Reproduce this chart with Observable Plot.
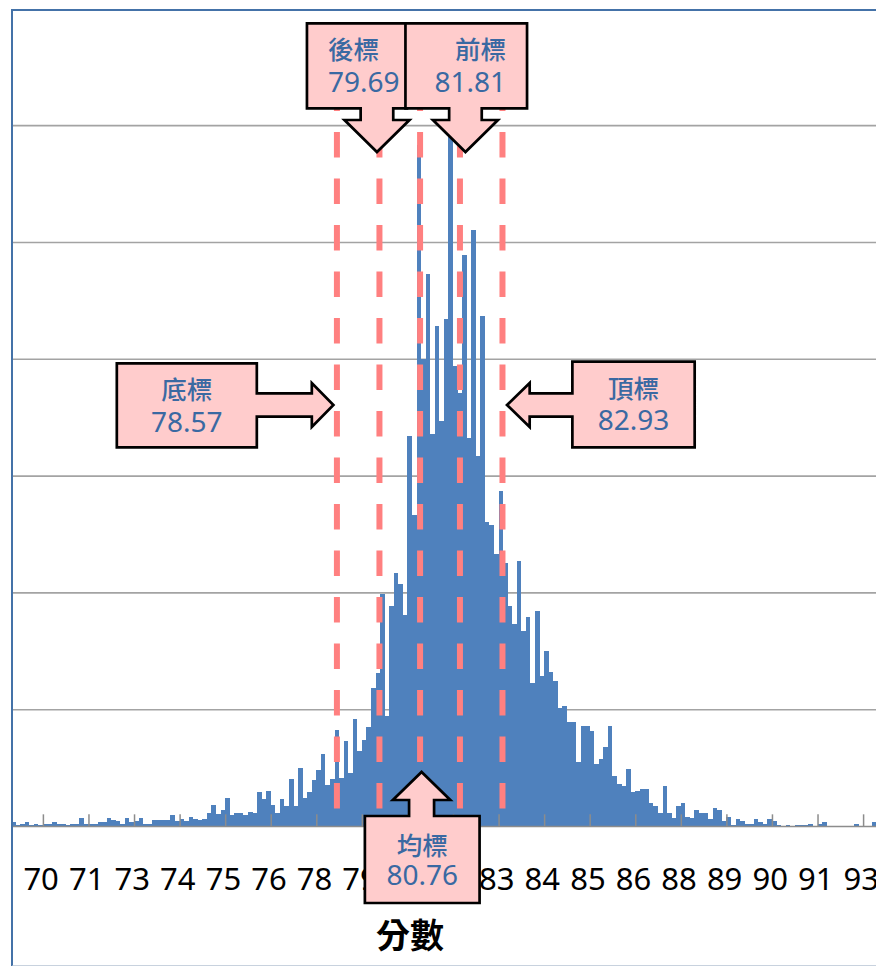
<!DOCTYPE html>
<html><head><meta charset="utf-8">
<script src="https://cdn.jsdelivr.net/npm/d3@7"></script>
<script src="https://cdn.jsdelivr.net/npm/@observablehq/plot@0.6"></script>
<style>
body{margin:0;background:#fff;}
#wrap{position:relative;width:876px;height:966px;overflow:hidden;}
#border{position:absolute;left:11px;top:9px;width:900px;height:954px;border-left:2.5px solid #4472a8;border-top:2.5px solid #4472a8;border-bottom:2px solid #c8d2de;pointer-events:none;}
</style></head><body><div id="wrap"><div id="border"></div></div>
<script>
// histogram bins (score), counts
const binStart = 70;
const binWidth = 0.12;
const counts = [
 3,1,2,3,1,2,1,2,2,3, 2,2,1,2,2,7,2,2,2,3,
 3,7,5,4,2,7,3,4,7,2, 2,5,5,5,5,9,4,6,4,8,
 6,5,6,11,18,10,14,24,9,11, 11,9,12,11,29,23,30,18,11,23,
 17,40,17,50,24,29,39,48,62,35, 40,82,41,73,45,92,64,74,85,118,
 131,199,94,188,217,207,181,334,266,583, 400,473,336,428,347,434,590,394,371,489,
 332,510,317,437,260,258,233,287,225,188, 173,227,167,179,122,184,128,150,132,124,
 101,103,89,89,55,86,86,81,53,57, 68,86,43,36,34,49,29,30,32,32,
 20,17,11,34,11,7,17,20,8,7, 14,11,11,6,15,14,4,8,1,6,
 4,2,2,6,3,2,6,4,1,0, 1,0,1,1,1,2,0,2,3,0,
 0,0,0,0,0,2,0,0,0,3
];
// category axis labels and where they sit
const tickLabels = ["70","71","73","74","75","76","78","79","80","81","83","84","85","86","88","89","90","91","93"];
const tickAt = [70.78,71.98,73.18,74.38,75.58,76.78,77.98,79.18,80.38,81.58,82.78,83.98,85.18,86.38,87.58,88.78,89.98,91.18,92.38];
const gridValues = [100,200,300,400,500,600];
const markers = [
  {name:"底標", value:78.57},
  {name:"後標", value:79.69},
  {name:"均標", value:80.76},
  {name:"前標", value:81.81},
  {name:"頂標", value:82.93}
];
const axisTitle = "分數";

const data = counts.map((c, i) => ({x1: binStart + i*binWidth, x2: binStart + (i+1)*binWidth, count: c}));
const labelMap = new Map(tickAt.map((t, i) => [t, tickLabels[i]]));

const plot = Plot.plot({
  width: 876, height: 966,
  marginLeft: 11, marginRight: 0, marginTop: 10, marginBottom: 140,
  x: {domain: [70, 92.78]},
  y: {domain: [0, 698.6], axis: null},
  style: {fontFamily: "'Noto Sans','Noto Sans CJK TC',sans-serif", background: "transparent", overflow: "visible"},
  marks: [
    Plot.ruleY(gridValues, {stroke: "#a3a3a3", strokeWidth: 1.6}),
    Plot.rectY(data, {x1: "x1", x2: "x2", y: "count", fill: "#4f81bd", shapeRendering: "crispEdges"}),
    Plot.ruleY([0], {stroke: "#8c8c8c", strokeWidth: 1.5}),
    Plot.ruleX(tickAt, {x: d => d + binWidth/2, y1: 0, y2: 10, stroke: "#8c8c8c", strokeWidth: 1.5}),
    Plot.ruleX(markers, {x: "value", stroke: "#ff8080", strokeWidth: 6, strokeDasharray: "25.5 21", insetTop: 29, insetBottom: 16}),
    Plot.axisX(tickAt, {tickFormat: d => labelMap.get(d), tickSize: 0, tickPadding: 41, fontSize: 31, fill: "#000"}),
    Plot.text([axisTitle], {frameAnchor: "bottom", dx: -34, dy: 111, fontSize: 34, fontWeight: "bold", lineAnchor: "middle", fontFamily: "'Noto Sans CJK TC',sans-serif", fill: "#000"})
  ]
});
document.getElementById("wrap").appendChild(plot);

// callout shapes anchored on the x scale
const sx = plot.scale("x");
const svg = d3.select(plot);
const g = svg.append("g");
const textColor = "#3a69a2";
const layout = {
  "底標": {dir: "right", dx: -3, ty: 405},
  "後標": {dir: "down", dx: -2, ty: 152, l: -70, r: 30, align: "start"},
  "均標": {dir: "up", dx: 2, ty: 772},
  "前標": {dir: "down", dx: 6, ty: 152, l: -60, r: 61.6, align: "end"},
  "頂標": {dir: "left", dx: 5, ty: 405}
};
for (const m of markers) {
  const L = layout[m.name];
  const tx = sx.apply(m.value) + L.dx, ty = L.ty;
  let p, box;
  if (L.dir === "down") {
    box = {l: tx + L.l, r: tx + L.r, t: 23.3, b: 108.3};
    const sw = 16.3, ww = 32.5, sb = 120;
    p = `M${box.l},${box.t}H${box.r}V${box.b}H${tx+sw}V${sb}H${tx+ww}L${tx},${ty}L${tx-ww},${sb}H${tx-sw}V${box.b}H${box.l}Z`;
  } else if (L.dir === "up") {
    box = {l: tx - 56.7, r: tx + 58, t: 816, b: 903};
    const sw = 12.5, ww = 28.7, wy = 800;
    p = `M${box.l},${box.t}H${tx-sw}V${wy}H${tx-ww}L${tx},${ty}L${tx+ww},${wy}H${tx+sw}V${box.t}H${box.r}V${box.b}H${box.l}Z`;
  } else if (L.dir === "right") {
    box = {l: tx - 216.6, r: tx - 76.6, t: 363.3, b: 447.3};
    const sh = 11.7, hh = 22, hb = tx - 21.6;
    p = `M${box.l},${box.t}H${box.r}V${ty-sh}H${hb}V${ty-hh}L${tx},${ty}L${hb},${ty+hh}V${ty+sh}H${box.r}V${box.b}H${box.l}Z`;
  } else {
    box = {l: tx + 65.4, r: tx + 187.7, t: 361.7, b: 447.3};
    const sh = 11.7, hh = 22, hb = tx + 22.7;
    p = `M${box.r},${box.t}V${box.b}H${box.l}V${ty+sh}H${hb}V${ty+hh}L${tx},${ty}L${hb},${ty-hh}V${ty-sh}H${box.l}V${box.t}Z`;
  }
  g.append("path").attr("d", p).attr("fill", "#ffcccc").attr("stroke", "#000").attr("stroke-width", 2.7).attr("stroke-linejoin", "miter");
  let anchor = "middle", ax = (box.l + box.r) / 2;
  if (L.align === "start") { anchor = "start"; ax = box.l + 21; }
  if (L.align === "end") { anchor = "end"; ax = box.r - 21; }
  const t1 = L.dir === "up" ? 30 : 27;
  g.append("text").attr("x", ax).attr("y", box.t + t1).attr("dy", "0.36em")
    .attr("text-anchor", anchor).attr("fill", textColor)
    .attr("font-family", "'Noto Sans CJK TC',sans-serif").attr("font-size", 25.5).attr("font-weight", 500)
    .text(m.name);
  g.append("text").attr("x", ax).attr("y", box.t + 68.5)
    .attr("text-anchor", anchor).attr("fill", textColor)
    .attr("font-family", "'Noto Sans',sans-serif").attr("font-size", 28)
    .text(m.value.toFixed(2));
}
</script></body></html>
